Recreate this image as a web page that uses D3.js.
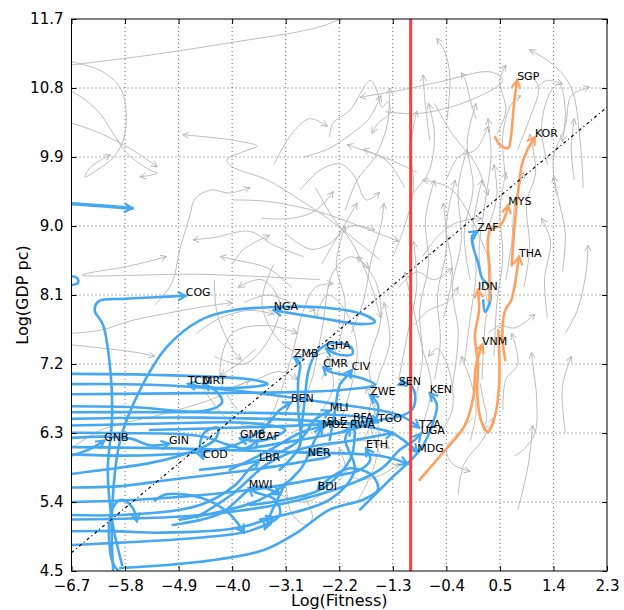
<!DOCTYPE html>
<html>
<head>
<meta charset="utf-8">
<script src="https://cdn.jsdelivr.net/npm/d3@7"></script>
<style>
  body { margin: 0; background: #fff; }
  text { font-family: "DejaVu Sans", sans-serif; }
</style>
</head>
<body>
<div id="chart"></div>
<script>
// ---- data ----
const xTicks = [-6.7, -5.8, -4.9, -4.0, -3.1, -2.2, -1.3, -0.4, 0.5, 1.4, 2.3];
const yTicks = [4.5, 5.4, 6.3, 7.2, 8.1, 9.0, 9.9, 10.8, 11.7];
const fitnessThreshold = -1.0;
const trendX = [-6.7, 2.3];
const trendY = [4.74, 10.55];

// African countries (log fitness, log gdp pc), last point = latest year
const africaNames = ["", "", "COG", "NGA", "TCD", "MRT", "GNB", "GIN", "COD", "GMB", "CAF", "LBR", "MWI", "BDI",
  "NER", "ETH", "MDG", "TZA", "UGA", "KEN", "SEN", "ZWE", "BEN", "ZMB", "GHA", "CMR", "CIV", "MLI", "BFA",
  "TGO", "SLE", "MOZ", "RWA", "ZAF", "", "", "", "", "", "", ""];
const africaPaths = [
  [[-7.6,9.31],[-6.7,9.29],[-5.68,9.23]],
  [[-7.4,8.30],[-6.62,8.33],[-6.59,8.26],[-7.4,8.20]],
  [[-5.85,4.58],[-6.02,5.17],[-6.09,5.82],[-6.02,6.47],[-6.04,7.06],[-6.17,7.71],[-6.31,7.90],[-6.24,8.02],[-5.80,8.05],[-5.30,8.07],[-4.78,8.09]],
  [[-6.0,4.50],[-6.02,5.26],[-5.88,6.21],[-5.55,6.86],[-5.10,7.42],[-4.54,7.77],[-3.99,7.90],[-3.36,7.94],[-2.52,7.94],[-1.77,7.84],[-1.60,7.75],[-1.82,7.72],[-2.52,7.80],[-3.30,7.90]],
  [[-7.57,7.07],[-5.38,7.06],[-3.70,7.00],[-3.40,6.94],[-3.87,6.89],[-4.46,6.90],[-4.74,6.94]],
  [[-7.57,6.65],[-5.72,6.64],[-4.46,6.59],[-4.17,6.70],[-4.29,6.86],[-4.49,6.94]],
  [[-7.57,5.92],[-6.89,5.97],[-6.39,6.09],[-6.15,6.20]],
  [[-7.57,6.17],[-6.39,6.25],[-5.72,6.23],[-5.38,6.14],[-5.06,6.16]],
  [[-7.57,5.69],[-6.15,5.82],[-5.31,5.92],[-4.71,6.05],[-4.29,6.21],[-4.24,6.37],[-4.46,6.31],[-4.54,6.14],[-4.49,5.97]],
  [[-7.57,6.38],[-5.38,6.42],[-3.70,6.43],[-3.11,6.34],[-3.50,6.20],[-3.87,6.23]],
  [[-7.57,6.30],[-5.88,6.30],[-4.54,6.26],[-4.04,6.14],[-3.78,6.10],[-3.56,6.21]],
  [[-7.57,5.26],[-5.87,5.23],[-4.54,5.36],[-3.95,5.62],[-3.70,5.84],[-3.55,5.93]],
  [[-7.57,4.81],[-5.87,4.87],[-4.47,4.94],[-3.68,5.03],[-3.20,5.23],[-3.28,5.43],[-3.62,5.53],[-3.72,5.58]],
  [[-5.88,4.54],[-4.54,4.62],[-3.48,4.77],[-2.91,5.0],[-2.36,5.30],[-1.80,5.43],[-1.55,5.56],[-1.65,5.75],[-2.02,5.84],[-2.36,5.71],[-2.56,5.56]],
  [[-7.57,5.60],[-6.0,5.60],[-5.03,5.69],[-3.68,5.82],[-2.86,5.92],[-2.36,6.01],[-2.52,6.10],[-2.73,6.0]],
  [[-7.57,5.39],[-5.58,5.43],[-3.68,5.56],[-2.52,5.71],[-1.85,5.82],[-1.68,5.95],[-1.75,6.10]],
  [[-7.57,6.47],[-4.54,6.50],[-2.36,6.44],[-1.35,6.31],[-1.01,6.14],[-0.89,6.05]],
  [[-7.57,6.93],[-5.38,6.93],[-4.04,6.86],[-2.36,6.69],[-1.18,6.53],[-0.86,6.37]],
  [[-6.89,5.17],[-4.54,5.23],[-2.86,5.43],[-1.52,5.82],[-1.18,6.08],[-0.93,6.21],[-0.83,6.29]],
  [[-1.85,5.30],[-1.35,5.69],[-0.84,6.08],[-0.64,6.40],[-0.56,6.67],[-0.68,6.82]],
  [[-5.38,6.34],[-2.86,6.40],[-1.52,6.47],[-0.98,6.60],[-0.93,6.82],[-1.04,6.95],[-1.20,6.93]],
  [[-3.87,6.08],[-2.86,6.21],[-2.02,6.34],[-1.60,6.47],[-1.55,6.67],[-1.68,6.79]],
  [[-7.57,6.05],[-5.38,6.01],[-4.04,6.12],[-3.50,6.34],[-3.20,6.60],[-3.01,6.70]],
  [[-3.20,5.82],[-2.86,6.14],[-2.89,6.60],[-2.89,6.99],[-2.86,7.21],[-2.96,7.29]],
  [[-2.86,6.21],[-2.78,6.73],[-2.72,7.10],[-2.60,7.33],[-2.35,7.47],[-2.0,7.42],[-1.98,7.33],[-2.2,7.32],[-2.42,7.40]],
  [[-7.57,6.80],[-4.54,6.82],[-3.20,6.83],[-2.19,6.86],[-1.60,6.93],[-1.85,7.02],[-2.36,7.10],[-2.47,7.16]],
  [[-2.36,6.21],[-2.27,6.60],[-2.19,6.93],[-2.05,7.06],[-1.99,7.12]],
  [[-4.54,5.82],[-3.53,5.95],[-2.86,6.21],[-2.61,6.47],[-2.36,6.59]],
  [[-3.70,5.36],[-2.52,5.56],[-2.02,5.95],[-1.94,6.27],[-1.97,6.46]],
  [[-7.57,6.57],[-4.54,6.57],[-2.86,6.55],[-1.85,6.51],[-1.55,6.44]],
  [[-4.04,5.82],[-3.36,6.08],[-2.86,6.30],[-2.41,6.40]],
  [[-4.88,5.17],[-3.53,5.43],[-2.86,5.82],[-2.61,6.21],[-2.49,6.37]],
  [[-3.53,5.17],[-2.36,5.43],[-1.94,5.82],[-2.10,6.21],[-2.02,6.37]],
  [[0.22,8.03],[0.25,7.88],[0.34,8.03],[0.30,8.23],[0.20,8.32],[0.13,8.53],[0.05,8.73],[0.03,8.86],[0.12,8.93]],
  [[-5.1,4.45],[-5.92,4.51],[-6.07,4.94],[-6.0,5.33],[-5.85,5.43],[-5.67,5.32],[-5.6,5.15]],
  [[-7.57,5.01],[-6.04,5.02],[-5.2,5.0],[-4.0,5.05],[-3.3,5.2]],
  [[-7.57,6.12],[-5.0,6.10],[-3.0,6.05],[-1.5,6.0],[-1.05,5.9]],
  [[-4.6,5.2],[-4.0,5.5],[-3.4,5.9],[-2.8,6.1],[-2.0,6.2],[-1.3,6.3]],
  [[-5.0,5.1],[-4.2,5.25],[-3.6,5.6],[-3.2,5.5]],
  [[-5.3,5.42],[-5.1,5.5],[-4.5,5.45],[-4.05,5.25],[-3.8,5.0]],
  [[-3.1,5.65],[-3.35,5.25],[-3.45,5.05]]
];

// East Asian countries
const asiaNames = ["SGP", "KOR", "MYS", "THA", "IDN", "VNM"];
const asiaPaths = [
  [[0.42,10.16],[0.50,10.06],[0.64,10.02],[0.69,10.19],[0.72,10.45],[0.75,10.68],[0.79,10.90]],
  [[0.70,8.49],[0.74,8.95],[0.80,9.40],[0.87,9.80],[0.96,9.99],[1.09,10.16]],
  [[0.33,8.03],[0.32,8.43],[0.30,8.82],[0.35,8.96],[0.50,9.0],[0.59,9.13],[0.64,9.27]],
  [[0.59,7.25],[0.54,7.58],[0.59,7.90],[0.69,8.03],[0.75,8.23],[0.79,8.43],[0.82,8.60]],
  [[0.47,7.64],[0.49,6.99],[0.42,6.53],[0.30,6.31],[0.18,6.47],[0.12,6.80],[0.13,7.19],[0.08,7.58],[0.15,7.90],[0.13,8.17]],
  [[-0.85,5.69],[-0.46,6.04],[-0.09,6.40],[0.06,6.80],[0.09,7.15],[0.2,7.45]]
];

// all other countries
const otherPaths = [
  [[-7.0,11.06],[-6.69,11.10],[-5.38,11.23],[-4.04,11.39],[-2.52,11.60],[-1.9,11.8]],
  [[-6.89,11.17],[-6.22,11.03],[-5.88,10.80],[-5.78,10.45],[-5.83,10.12],[-6.0,9.89],[-6.27,9.73],[-6.47,9.64],[-6.39,9.76],[-6.05,9.93]],
  [[-7.0,10.8],[-6.69,10.75],[-6.27,10.51],[-6.0,10.21],[-5.77,9.95],[-5.38,9.73],[-5.26,9.69],[-5.55,9.64]],
  [[-7.0,10.4],[-6.69,10.34],[-6.22,10.21],[-5.67,9.99],[-5.26,9.77]],
  [[-1.52,8.56],[-2.36,9.08],[-2.86,9.34],[-3.41,9.60],[-3.99,9.77],[-4.09,9.86],[-3.78,9.98],[-3.58,10.04],[-3.99,10.12],[-4.83,10.19]],
  [[-5.3,7.97],[-5.01,8.26],[-4.88,8.69],[-4.71,9.14],[-4.62,9.36],[-4.35,9.47],[-4.05,9.43],[-3.7,9.5]],
  [[-3.99,9.34],[-3.4,9.32],[-2.52,9.18],[-1.7,8.95],[-1.2,8.8]],
  [[-2.8,8.6],[-3.3,8.75],[-3.71,8.93],[-4.3,8.85],[-4.66,8.82]],
  [[-4.0,8.5],[-3.8,8.7],[-3.37,8.88]],
  [[-2.52,8.30],[-4.54,8.37],[-6.52,8.36],[-5.72,8.48],[-5.10,8.60]],
  [[-6.7,7.60],[-6.22,7.64],[-5.67,7.77],[-5.10,7.86],[-4.54,7.94],[-4.0,8.0]],
  [[-1.43,10.49],[-0.84,10.47],[0.0,10.64],[0.55,10.90],[0.34,11.01],[-0.51,10.88],[-1.18,10.77],[-1.85,10.68]],
  [[-2.36,10.16],[-2.31,10.34],[-2.02,10.51],[-1.68,10.90],[-1.57,10.77],[-1.48,10.55],[-1.38,10.62],[-1.35,10.47],[-1.55,10.34],[-1.65,10.21]],
  [[-0.39,10.38],[-0.34,10.94],[-0.42,11.26],[-0.56,11.45]],
  [[-0.68,10.12],[-0.76,10.64],[-0.79,10.97]],
  [[0.0,8.3],[-0.1,8.9],[0.05,9.5],[-0.05,10.1],[0.1,10.6]],
  [[0.6,9.6],[0.55,10.2],[0.7,10.6],[0.85,10.7]],
  [[1.3,9.8],[1.2,10.3],[1.35,10.75],[1.5,10.85],[1.6,10.5],[1.55,10.1]],
  [[1.45,9.4],[1.4,9.9],[1.6,10.3],[1.7,10.7],[2.01,10.81]],
  [[1.9,9.5],[1.85,10.1],[1.7,10.8],[1.4,11.1],[1.0,11.30]],
  [[1.75,9.6],[1.7,10.0],[1.75,10.4]],
  [[0.1,10.4],[0.0,10.65],[-0.08,10.9],[-0.15,11.0]],
  [[-0.9,9.7],[-1.3,9.85],[-2.07,10.06]],
  [[-1.1,9.5],[-1.4,9.85],[-1.8,10.0]],
  [[-2.86,9.47],[-2.52,9.73],[-2.19,9.81],[-1.97,9.68],[-1.74,9.34],[-1.52,9.44]],
  [[0.3,8.6],[-0.05,9.2],[-0.35,9.5],[-0.8,9.6]],
  [[0.75,6.0],[0.92,6.1],[1.09,6.3],[1.12,6.73],[1.06,7.15],[1.03,7.35]],
  [[0.3,7.6],[0.5,7.7],[0.75,7.67],[1.09,7.85]],
  [[1.6,6.3],[1.55,6.9],[1.7,7.3]],
  [[1.55,8.4],[1.6,8.9],[1.5,9.3],[1.4,9.65]],
  [[1.6,7.6],[1.8,7.9],[1.95,8.4],[1.98,8.75]],
  [[-4.3,7.3],[-3.8,7.2],[-3.4,7.5],[-3.2,8.0],[-3.5,8.3],[-3.9,8.2]],
  [[-3.6,6.2],[-3.3,6.6],[-3.0,7.3],[-2.8,7.9],[-2.6,8.2],[-2.3,8.25]],
  [[-2.9,6.6],[-2.7,6.9],[-2.5,7.6],[-2.3,8.4],[-2.0,8.6],[-1.7,8.45]],
  [[-2.2,6.4],[-2.0,6.9],[-1.9,7.4],[-2.1,7.9],[-2.4,8.1],[-2.6,7.8]],
  [[-3.1,8.9],[-2.7,8.7],[-2.4,8.75],[-2.0,9.0],[-1.6,8.95]],
  [[-3.9,6.6],[-4.2,7.0],[-4.0,7.6],[-3.4,7.7],[-2.9,7.6]],
  [[-1.8,6.2],[-1.6,6.6],[-1.7,7.2],[-1.5,7.8],[-1.6,8.3],[-1.9,8.6]],
  [[-2.6,9.5],[-2.3,9.1],[-2.0,8.8],[-1.7,8.3],[-1.5,7.8]],
  [[-3.3,8.5],[-3.5,8.0],[-3.2,7.5],[-2.7,7.3],[-2.3,7.4]],
  [[-4.6,7.6],[-4.2,7.8],[-3.7,7.9],[-3.3,7.85]],
  [[-1.5,6.0],[-1.7,6.5],[-1.55,7.0],[-1.35,7.5],[-1.45,8.0]],
  [[-3.1,5.7],[-3.0,5.25],[-2.75,5.1],[-2.65,5.2],[-2.8,5.5]],
  [[-2.2,5.9],[-1.9,5.7],[-1.5,5.75],[-1.2,5.9]],
  [[-3.4,6.1],[-2.9,6.05],[-2.3,6.15],[-1.8,6.2],[-1.35,6.1]],
  [[-4.5,6.9],[-4.1,6.5],[-3.7,6.4],[-3.3,6.5]],
  [[-3.6,7.4],[-3.9,7.2],[-4.2,7.05]],
  [[-3.0,8.2],[-3.4,8.45],[-3.9,8.55],[-4.2,8.6]],
  [[-2.0,7.6],[-1.8,8.0],[-1.65,8.6],[-1.5,9.0],[-1.45,9.3]],
  [[-2.8,9.9],[-2.4,10.0],[-2.0,10.2],[-1.7,10.4],[-1.5,10.7]],
  [[-3.5,9.1],[-3.0,9.1],[-2.6,9.2],[-2.3,9.45]],
  [[-0.9,6.8],[-0.8,7.3],[-0.85,7.9],[-0.7,8.5],[-0.75,9.1],[-0.6,9.6]],
  [[-0.6,7.0],[-0.5,7.5],[-0.55,8.1],[-0.4,8.7],[-0.45,9.3]],
  [[-0.3,6.9],[-0.2,7.6],[-0.3,8.2],[-0.15,8.8],[-0.2,9.5],[-0.05,10.0]],
  [[-0.1,7.2],[0.0,7.8],[0.1,8.4],[0.05,9.0],[0.2,9.6]],
  [[0.2,7.0],[0.25,7.7],[0.35,8.3],[0.3,8.9],[0.45,9.4],[0.4,9.8]],
  [[0.4,7.3],[0.45,8.0],[0.55,8.6],[0.5,9.2],[0.6,9.7]],
  [[-0.95,7.7],[-0.7,7.9],[-0.4,8.0],[-0.2,8.2]],
  [[-0.8,8.6],[-0.5,8.9],[-0.2,9.05],[0.2,9.1]],
  [[-0.5,6.3],[-0.3,6.6],[-0.35,7.1],[-0.55,7.4],[-0.7,7.3]],
  [[0.0,6.2],[0.1,6.6],[0.0,7.0],[-0.15,7.3]],
  [[-1.0,9.4],[-0.7,9.7],[-0.6,10.2],[-0.7,10.6]],
  [[0.3,8.0],[0.15,8.6],[0.25,9.3],[0.35,9.9],[0.3,10.4]],
  [[-1.2,8.2],[-0.9,8.4],[-0.6,8.3],[-0.3,8.45]],
  [[0.6,8.3],[0.7,8.8],[0.75,9.3],[0.9,9.7]],
  [[-0.4,9.6],[-0.2,9.9],[0.1,10.0],[0.3,10.3]],
  [[-0.8,6.4],[-0.65,6.9],[-0.8,7.4],[-0.95,7.9],[-1.1,8.4]],
  [[0.05,6.5],[-0.2,6.3],[-0.4,6.1],[-0.3,5.9],[0.0,5.8]],
  [[0.17,6.95],[0.22,6.73],[0.28,6.5],[0.22,6.34]],
  [[0.8,5.3],[0.9,5.6],[1.0,6.0],[1.05,6.4]],
  [[-6.7,6.1],[-6.2,6.34],[-5.1,6.56],[-4.25,6.77],[-3.7,7.0]],
  [[-6.7,7.45],[-5.6,7.35],[-5.3,7.3]],
  [[-4.3,8.3],[-4.25,7.85],[-4.0,7.4],[-3.85,7.25]],
  [[-3.3,9.8],[-3.0,10.2],[-2.7,10.4],[-2.4,10.3]],
  [[-2.1,9.2],[-1.9,9.6],[-1.6,9.9],[-1.4,10.3],[-1.35,10.8]],
  [[-1.3,8.6],[-1.1,9.0],[-0.95,9.5],[-1.0,10.0],[-0.9,10.5]],
  [[-2.5,7.0],[-2.2,7.5],[-2.1,8.0],[-2.25,8.5],[-2.1,9.0]],
  [[-3.0,6.3],[-2.6,6.5],[-2.3,6.9],[-2.4,7.3]],
  [[-3.2,5.5],[-2.8,5.4],[-2.4,5.55],[-2.1,5.8],[-2.2,6.1]],
  [[-1.9,5.4],[-1.6,5.9],[-1.55,6.4],[-1.75,6.9]],
  [[-0.2,5.5],[-0.1,5.9],[0.2,6.2],[0.4,6.5]],
  [[0.55,6.6],[0.6,7.0],[0.8,7.2],[0.7,7.6]],
  [[1.3,7.8],[1.25,8.3],[1.35,8.8],[1.2,9.1]],
  [[0.9,8.2],[1.0,8.7],[0.95,9.3],[1.1,9.7],[1.0,10.2]],
  [[0.8,10.0],[1.0,10.4],[1.15,10.8],[1.0,11.0]],
  [[-0.6,10.6],[-0.3,10.2],[0.1,9.8],[0.3,9.4]],
  [[-1.2,7.0],[-1.05,7.6],[-0.9,8.2],[-0.95,8.8]],
  [[-0.45,7.8],[-0.3,8.4],[-0.4,9.0],[-0.25,9.6]],
  [[-3.8,8.0],[-3.4,8.1],[-3.0,8.0],[-2.6,7.9]],
  [[-2.5,8.5],[-2.2,8.9],[-1.9,9.3]],
  [[-4.0,6.9],[-3.6,7.0],[-3.2,7.1],[-2.9,7.0]],
  [[0.45,10.2],[0.6,10.5],[0.5,10.9],[0.6,11.1]],
  [[1.1,10.8],[1.3,10.9],[1.55,10.85]]
];

// ---- layout ----
const width = 624, height = 610;
const margin = {top: 19, right: 17, bottom: 39, left: 71.5};
const innerW = width - margin.left - margin.right;
const innerH = height - margin.top - margin.bottom;

const xScale = d3.scaleLinear().domain([-6.7, 2.3]).range([0, innerW]);
const yScale = d3.scaleLinear().domain([4.5, 11.7]).range([innerH, 0]);

const svg = d3.select('#chart').append('svg')
    .attr('width', width)
    .attr('height', height);

const defs = svg.append('defs');
defs.append('clipPath').attr('id', 'plot-clip')
  .append('rect').attr('width', innerW).attr('height', innerH);

function addArrow(id, color, len, half, sw) {
  defs.append('marker')
      .attr('id', id)
      .attr('markerUnits', 'userSpaceOnUse')
      .attr('markerWidth', 20).attr('markerHeight', 20)
      .attr('refX', 0).attr('refY', 0)
      .attr('orient', 'auto')
      .style('overflow', 'visible')
    .append('path')
      .attr('d', `M${-len},${-half}L0,0L${-len},${half}`)
      .attr('fill', 'none')
      .attr('stroke', color)
      .attr('stroke-width', sw)
      .attr('stroke-linejoin', 'miter');
}
const grayColor = '#b5b5b5', blueColor = '#45a8f2', orangeColor = '#ffa15e';
addArrow('arrow-gray', grayColor, 6, 3, 0.9);
addArrow('arrow-blue', blueColor, 8, 4.5, 2.2);
addArrow('arrow-orange', orangeColor, 8, 4.5, 2.2);

const chart = svg.append('g')
    .attr('transform', `translate(${margin.left},${margin.top})`);

// grid
const grid = chart.append('g').attr('class', 'grid');
grid.selectAll('.vgrid').data(xTicks.slice(1, -1)).join('line')
    .attr('x1', d => xScale(d)).attr('x2', d => xScale(d))
    .attr('y1', 0).attr('y2', innerH)
    .attr('stroke', '#444').attr('stroke-width', 0.8).attr('stroke-dasharray', '1,3');
grid.selectAll('.hgrid').data(yTicks.slice(1, -1)).join('line')
    .attr('x1', 0).attr('x2', innerW)
    .attr('y1', d => yScale(d)).attr('y2', d => yScale(d))
    .attr('stroke', '#444').attr('stroke-width', 0.8).attr('stroke-dasharray', '1,3');

const plot = chart.append('g').attr('clip-path', 'url(#plot-clip)');

const line = d3.line()
    .x(d => xScale(d[0]))
    .y(d => yScale(d[1]))
    .curve(d3.curveCatmullRom.alpha(0.5));

plot.append('g').selectAll('path').data(otherPaths).join('path')
    .attr('d', line)
    .attr('fill', 'none')
    .attr('stroke', grayColor)
    .attr('stroke-width', 0.9)
    .attr('marker-end', 'url(#arrow-gray)');

plot.append('g').selectAll('path').data(africaPaths).join('path')
    .attr('d', line)
    .attr('fill', 'none')
    .attr('stroke', blueColor)
    .attr('stroke-width', (d, i) => i === 0 ? 3.5 : 2.6)
    .attr('stroke-linecap', 'round')
    .attr('marker-end', 'url(#arrow-blue)');

plot.append('g').selectAll('path').data(asiaPaths).join('path')
    .attr('d', line)
    .attr('fill', 'none')
    .attr('stroke', orangeColor)
    .attr('stroke-width', 2.6)
    .attr('stroke-linecap', 'round')
    .attr('marker-end', 'url(#arrow-orange)');

// fitness threshold
plot.append('line')
    .attr('x1', xScale(fitnessThreshold)).attr('x2', xScale(fitnessThreshold))
    .attr('y1', 0).attr('y2', innerH)
    .attr('stroke', '#ff3c3c').attr('stroke-width', 3);

// trend line
plot.append('line')
    .attr('x1', xScale(trendX[0])).attr('y1', yScale(trendY[0]))
    .attr('x2', xScale(trendX[1])).attr('y2', yScale(trendY[1]))
    .attr('stroke', '#000').attr('stroke-width', 1.2)
    .attr('stroke-dasharray', '3,3,1,3');

// country labels
const labels = chart.append('g').attr('class', 'labels');
africaPaths.forEach((p, i) => {
  if (!africaNames[i]) return;
  const last = p[p.length - 1];
  labels.append('text')
      .attr('x', xScale(last[0])).attr('y', yScale(last[1]))
      .attr('font-size', 11).attr('fill', '#000')
      .text(africaNames[i]);
});
asiaPaths.forEach((p, i) => {
  const last = p[p.length - 1];
  labels.append('text')
      .attr('x', xScale(last[0])).attr('y', yScale(last[1]))
      .attr('font-size', 11).attr('fill', '#000')
      .text(asiaNames[i]);
});

// frame and ticks
chart.append('rect')
    .attr('width', innerW).attr('height', innerH)
    .attr('fill', 'none').attr('stroke', '#000').attr('stroke-width', 1);

const xAxisB = d3.axisBottom(xScale).tickValues(xTicks).tickSize(-5).tickPadding(9)
    .tickFormat(d => d3.format('.1f')(d).replace('-', '\u2212'));
const yAxisL = d3.axisLeft(yScale).tickValues(yTicks).tickSize(-5).tickPadding(8)
    .tickFormat(d3.format('.1f'));

const gx = chart.append('g').attr('transform', `translate(0,${innerH})`).call(xAxisB);
const gy = chart.append('g').call(yAxisL);
chart.append('g').call(d3.axisTop(xScale).tickValues(xTicks).tickSize(-5).tickFormat(''));
chart.append('g').attr('transform', `translate(${innerW},0)`)
    .call(d3.axisRight(yScale).tickValues(yTicks).tickSize(-5).tickFormat(''));

chart.selectAll('.domain').remove();
chart.selectAll('.tick line').attr('stroke', '#000');
gx.selectAll('text').attr('font-size', 15).attr('font-family', '"DejaVu Sans", sans-serif').attr('fill', '#000');
gy.selectAll('text').attr('font-size', 15).attr('font-family', '"DejaVu Sans", sans-serif').attr('fill', '#000');

// axis titles
svg.append('text')
    .attr('x', margin.left + innerW / 2).attr('y', 606)
    .attr('text-anchor', 'middle').attr('font-size', 16)
    .text('Log(Fitness)');
svg.append('text')
    .attr('transform', `translate(28,${margin.top + innerH / 2}) rotate(-90)`)
    .attr('text-anchor', 'middle').attr('font-size', 16)
    .text('Log(GDP pc)');
</script>
</body>
</html>
